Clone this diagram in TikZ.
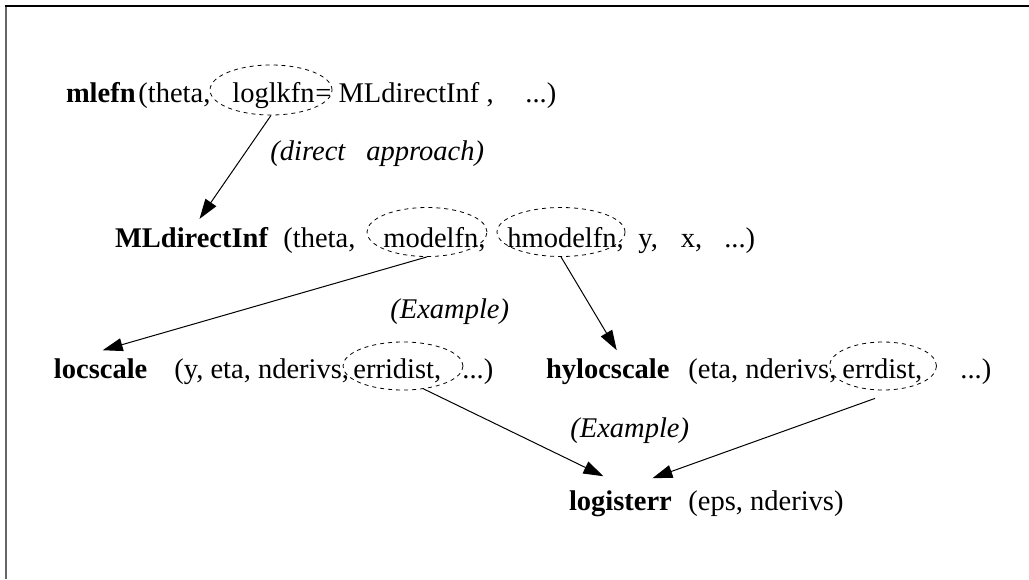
\documentclass[tikz,border=0pt]{standalone}
\usepackage{fontspec}
\setmainfont{Liberation Serif}
\usetikzlibrary{shapes.geometric, arrows.meta, calc}
\newcommand\figsize{\fontsize{14.25pt}{17pt}\selectfont}

\begin{document}
\begin{tikzpicture}[x=0.5pt, y=-0.5pt, >={Triangle[length=10pt,width=6.5pt]},
	font=\figsize,
	fname/.style={font=\figsize\bfseries, inner sep=0pt, outer xsep=0pt, outer ysep=4pt, anchor=base west},
	arg/.style={inner sep=0pt, anchor=base west},
	note/.style={font=\figsize\itshape, inner sep=0pt, anchor=base west},
	ring/.style={ellipse, draw, dashed, dash pattern=on 2pt off 2pt, line width=0.4pt, inner sep=0pt},
	call/.style={->, line width=0.5pt}]
	\useasboundingbox (0,0) rectangle (1029,579);
	\draw[line width=1pt, black!60] (5.5,579) -- (5.5,5.5);
	\draw[line width=1pt] (5,5.5) -- (1029,5.5);

	% top level call
	\node[fname] (mlefn) at (66,102) {mlefn};
	\node[arg] (mlargs) at (138,102) {(theta,};
	\node[arg] (loglkfn) at (232,102) {loglkfn};
	\node[arg] (mlval) at (315,102) {= MLdirectInf ,};
	\node[arg] (mldots) at (525,102) {...)};
	\node[ring, minimum width=61pt, minimum height=25pt] (loglkring) at (271,90) {};
	\node[note] (direct) at (270,160) {(direct\hspace{10.5pt}approach)};

	% direct approach
	\node[fname] (mldi) at (115,247) {MLdirectInf};
	\node[arg] (diargs) at (283,247) {(theta,};
	\node[arg] (modelfn) at (383,247) {modelfn,};
	\node[arg] (hmodelfn) at (507,247) {hmodelfn,};
	\node[arg] (direst) at (638,247) {y,\hspace{11.5pt}x,\hspace{11pt}...)};
	\node[ring, minimum width=60pt, minimum height=24.5pt] (modelring) at (427,232) {};
	\node[ring, minimum width=64pt, minimum height=24.5pt] (hmodelring) at (561,232) {};
	\node[note] (examplea) at (390,318) {(Example)};

	% model functions
	\node[fname] (locscale) at (54,378) {locscale};
	\node[arg] (locargs) at (174,378) {(y, eta, nderivs,};
	\node[arg] (erridist) at (353,378) {erridist,};
	\node[arg] (locdots) at (462,378) {...)};
	\node[ring, minimum width=60pt, minimum height=24pt] (erriring) at (403,366) {};

	\node[fname] (hylocscale) at (546,378) {hylocscale};
	\node[arg] (hyargs) at (688,378) {(eta, nderivs,};
	\node[arg] (errdist) at (842,378) {errdist,};
	\node[arg] (hydots) at (960,378) {...)};
	\node[ring, minimum width=53.5pt, minimum height=24pt] (errring) at (883,366) {};
	\node[note] (exampleb) at (570,437) {(Example)};

	% error distribution
	\node[fname] (logisterr) at (569,510) {logisterr};
	\node[arg] (logargs) at (688,510) {(eps, nderivs)};

	\draw[call] (loglkring.south) -- ($(mldi.north)+(8,0)$);
	\draw[call] (modelring.south) -- ($(locscale.north)+(2,0)$);
	\draw[call] (hmodelring.south) -- ($(hylocscale.north)+(9,0)$);
	\draw[call] (erriring.-48) -- ($(logisterr.north)+(-17,-6)$);
	\draw[call] ($(errring.south)+(-8,8)$) -- ($(logisterr.north)+(32,-4)$);
\end{tikzpicture}
\end{document}
